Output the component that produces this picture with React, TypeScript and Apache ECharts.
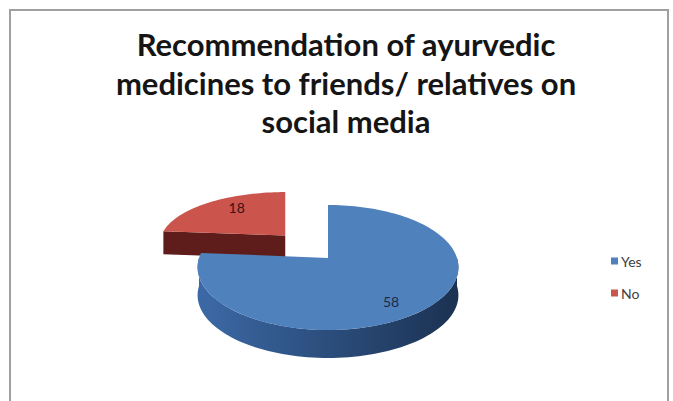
import React, { useEffect, useRef } from "react";
import * as echarts from "echarts";

// ---- data ----
const categories = ["Yes", "No"];
const values = [58, 18];
const titleLines = [
  "Recommendation of ayurvedic",
  "medicines to friends/ relatives on",
  "social media",
];

// ---- style ----
const topColors = ["#4F81BD", "#CB544D"];
const sideColorsFrom = ["#3C69A6", "#5E1C1A"];
const sideColorsTo = ["#1B3252", "#4A1412"];
const labelColors = ["#1c2b45", "#3a1212"];
const explodedIndex = 1;

// pseudo-3D geometry (pixels)
const G = { ax: 328, ay: 258, rx: 129, ry: 62.5, kx: 0.15, ky: 0.152, depth: 28 };
const EXPLODE = 0.55;
const EXPLODED_SX = 0.96;
const EXPLODED_SY = 0.82;

const rad = (d: number) => (d * Math.PI) / 180;

function rim(theta: number, ax: number, ay: number, sx: number, sy: number, dz: number) {
  const t = rad(theta);
  const c = Math.cos(t);
  const s = Math.sin(t);
  return [
    ax + sx * G.rx * s * (1 - G.kx * c),
    ay - sy * G.ry * c * (1 - G.ky * c) + dz,
  ];
}

function arcPts(a0: number, a1: number, ax: number, ay: number, sx: number, sy: number, dz: number) {
  const pts: number[][] = [];
  const n = Math.max(2, Math.ceil(Math.abs(a1 - a0) / 2));
  for (let i = 0; i <= n; i++) {
    const a = a0 + ((a1 - a0) * i) / n;
    pts.push(rim(a, ax, ay, sx, sy, dz));
  }
  return pts;
}

function makeRender(idx: number) {
  return (params: any, api: any) => {
    const total = values.reduce((a, b) => a + b, 0);
    let before = 0;
    for (let i = 0; i < idx; i++) before += values[i];
    const v = api.value(0);
    const a0 = (before / total) * 360;
    const a1 = ((before + v) / total) * 360;
    const mid = (a0 + a1) / 2;

    let ax = G.ax;
    let ay = G.ay;
    let sx = 1;
    let sy = 1;
    if (idx === explodedIndex) {
      const m = rim(mid, G.ax, G.ay, 1, 1, 0);
      ax = G.ax + EXPLODE * (m[0] - G.ax);
      ay = G.ay + EXPLODE * (m[1] - G.ay);
      sx = EXPLODED_SX;
      sy = EXPLODED_SY;
    }
    const depth = G.depth * sy;
    const children: any[] = [];

    const sideFill = {
      type: "linear",
      x: G.ax - G.rx,
      y: 0,
      x2: G.ax + G.rx,
      y2: 0,
      global: true,
      colorStops: [
        { offset: 0, color: sideColorsFrom[idx] },
        { offset: 1, color: sideColorsTo[idx] },
      ],
    };
    const radialFace = (phi: number) => {
      const p = rim(phi, ax, ay, sx, sy, 0);
      const pb = rim(phi, ax, ay, sx, sy, depth);
      children.push({
        type: "polygon",
        shape: { points: [[ax, ay], p, pb, [ax, ay + depth]] },
        style: { fill: sideColorsFrom[idx] },
      });
    };
    if (Math.sin(rad(a0)) < -1e-6) radialFace(a0);
    if (Math.sin(rad(a1)) > 1e-6) radialFace(a1);

    // outer side wall (front half only)
    const s0 = Math.max(a0, 90);
    const s1 = Math.min(a1, 270);
    if (s1 > s0) {
      const top = arcPts(s0, s1, ax, ay, sx, sy, 0);
      const bot = arcPts(s0, s1, ax, ay, sx, sy, depth).reverse();
      children.push({
        type: "polygon",
        shape: { points: top.concat(bot) },
        style: { fill: sideFill },
      });
    }

    // top face
    const topPts = [[ax, ay]].concat(arcPts(a0, a1, ax, ay, sx, sy, 0));
    children.push({
      type: "polygon",
      shape: { points: topPts },
      style: { fill: topColors[idx] },
    });

    // label
    const m = rim(mid, ax, ay, sx, sy, 0);
    children.push({
      type: "text",
      style: {
        text: String(v),
        x: ax + 0.65 * (m[0] - ax),
        y: ay + 0.85 * (m[1] - ay),
        align: "center",
        verticalAlign: "middle",
        fill: labelColors[idx],
        fontSize: 14,
        fontFamily: "Lato",
      },
    });

    return { type: "group", children };
  };
}

export default function App() {
  const ref = useRef<HTMLDivElement>(null);
  useEffect(() => {
    if (!ref.current) return;
    const chart = echarts.init(ref.current, undefined, { renderer: "svg" });
    chart.setOption({
      animation: false,
      backgroundColor: "#ffffff",
      title: {
        text: titleLines.join("\n"),
        left: 341,
        top: 20,
        textAlign: "center",
        textStyle: {
          fontFamily: "Lato",
          fontWeight: "bold",
          fontSize: 31,
          lineHeight: 38.5,
          color: "#151515",
        },
      },
      legend: {
        orient: "vertical",
        left: 611,
        top: 254,
        padding: 0,
        itemWidth: 7,
        itemHeight: 7,
        itemGap: 18,
        icon: "rect",
        textStyle: { fontFamily: "Lato", fontSize: 14, color: "#404040", padding: [0, 0, 0, -2] },
        data: categories.map((c, i) => ({ name: c, itemStyle: { color: topColors[i] } })),
      },
      graphic: [
        {
          type: "rect",
          shape: { x: 10, y: 10, width: 658, height: 400 },
          style: { fill: "none", stroke: "#a0a0a0", lineWidth: 2 },
          silent: true,
        },
      ],
      series: categories.map((c, i) => ({
        type: "custom",
        name: c,
        coordinateSystem: "none",
        silent: true,
        z: i === explodedIndex ? 2 : 3,
        itemStyle: { color: topColors[i] },
        data: [values[i]],
        renderItem: makeRender(i),
      })),
    });
    return () => chart.dispose();
  }, []);
  return (
    <div
      ref={ref}
      style={{ position: "fixed", left: 0, top: 0, width: 673, height: 401 }}
    />
  );
}
